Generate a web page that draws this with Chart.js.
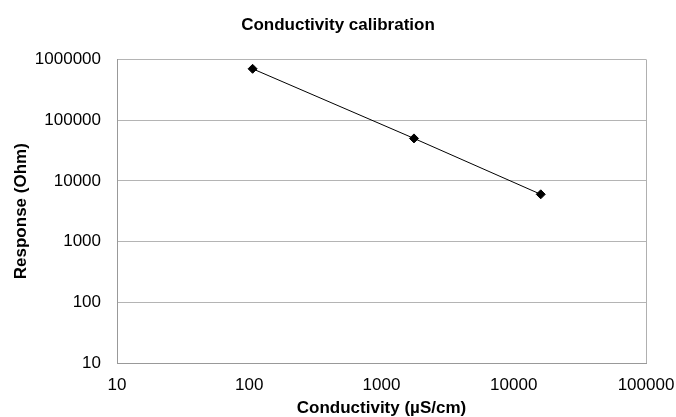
<!DOCTYPE html>
<html>
<head>
<meta charset="utf-8">
<script src="https://cdn.jsdelivr.net/npm/chart.js@4/dist/chart.umd.min.js"></script>
<style>
  html, body { margin: 0; padding: 0; background: #fff; }
  #wrap { width: 676px; height: 417px; }
</style>
</head>
<body>
<div id="wrap"><canvas id="myChart"></canvas></div>
<script>
// values
const conductivity = [106, 1760, 16000];   // uS/cm
const response = [700000, 50000, 6000];     // Ohm
const xTicks = [10, 100, 1000, 10000, 100000];
const yTicks = [10, 100, 1000, 10000, 100000, 1000000];

const points = conductivity.map((c, i) => ({ x: c, y: response[i] }));
const fontName = '"Liberation Sans", Arial, Helvetica, sans-serif';

const config = {
    type: 'scatter',
    data: {
        datasets: [{
            label: 'Calibration',
            data: points,
            showLine: true,
            borderColor: '#000',
            borderWidth: 1,
            backgroundColor: '#000',
            pointStyle: 'rectRot',
            pointRadius: 4.5,
            pointHoverRadius: 4.5
        }]
    },
    options: {
        responsive: true,
        maintainAspectRatio: false,
        animation: false,
        layout: { padding: 0 },
        plugins: {
            legend: { display: false },
            tooltip: { enabled: false },
            title: {
                display: true,
                text: 'Conductivity calibration',
                color: '#000',
                font: { family: fontName, size: 17, weight: 'bold', lineHeight: 1.2 },
                padding: { top: 15, bottom: 24 }
            }
        },
        scales: {
            x: {
                type: 'logarithmic',
                min: 10,
                max: 100000,
                afterBuildTicks: (scale) => { scale.ticks = xTicks.map(v => ({ value: v })); },
                afterFit: (scale) => {
                    scale.height = 54;
                    scale.paddingLeft = 0;
                    scale.paddingRight = 30;
                },
                ticks: {
                    color: '#000',
                    padding: 12,
                    maxRotation: 0,
                    font: { family: fontName, size: 17 },
                    callback: (v) => String(v)
                },
                grid: {
                    drawTicks: false,
                    color: (ctx) => (ctx.index === xTicks.length - 1 ? '#b0b0b0' : 'rgba(0,0,0,0)')
                },
                border: { display: true, color: '#999', width: 1 },
                title: {
                    display: true,
                    text: 'Conductivity (\u00b5S/cm)',
                    color: '#000',
                    font: { family: fontName, size: 17, weight: 'bold', lineHeight: 1.2 },
                    padding: { top: 0, bottom: -2 }
                }
            },
            y: {
                type: 'logarithmic',
                min: 10,
                max: 1000000,
                afterBuildTicks: (scale) => { scale.ticks = yTicks.map(v => ({ value: v })); },
                afterFit: (scale) => { scale.width = 117; },
                ticks: {
                    color: '#000',
                    padding: 16,
                    font: { family: fontName, size: 17 },
                    callback: (v) => String(v)
                },
                grid: {
                    drawTicks: false,
                    color: '#b4b4b4'
                },
                border: { display: true, color: '#999', width: 1 },
                title: {
                    display: true,
                    text: 'Response (Ohm)',
                    color: '#000',
                    font: { family: fontName, size: 17, weight: 'bold', lineHeight: 1.2 },
                    padding: { top: 11, bottom: 0 }
                }
            }
        }
    }
};

const myChart = new Chart(document.getElementById('myChart'), config);
</script>
</body>
</html>
